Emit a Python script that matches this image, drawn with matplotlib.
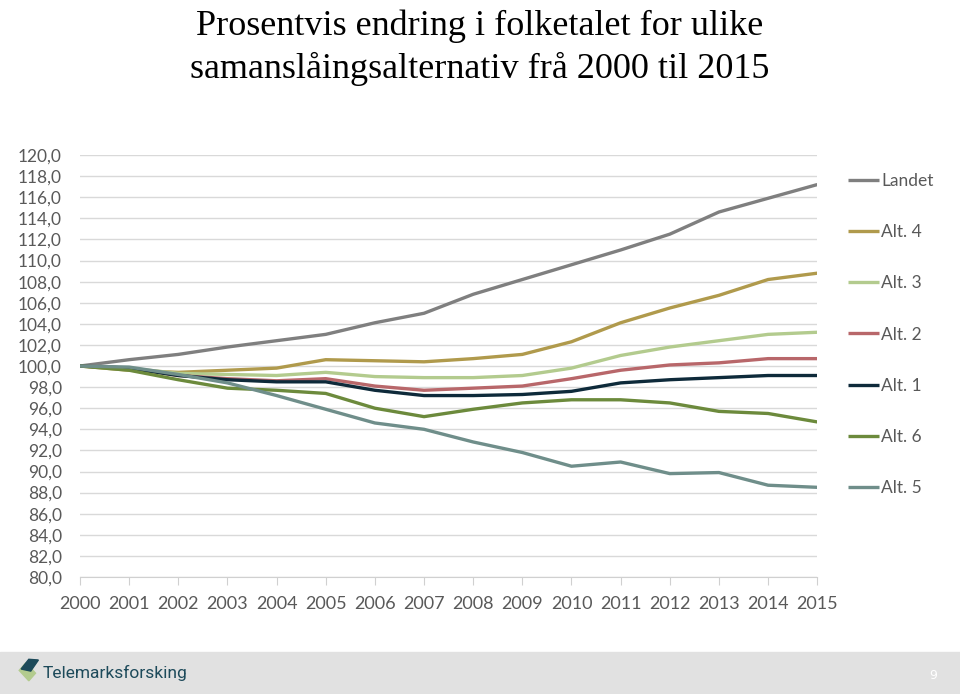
import matplotlib.pyplot as plt
from matplotlib.patches import Polygon, Rectangle

years = list(range(2000, 2016))
labels = ["Landet", "Alt. 4", "Alt. 3", "Alt. 2", "Alt. 1", "Alt. 6", "Alt. 5"]

landet = [100.0, 100.6, 101.1, 101.8, 102.4, 103.0, 104.1, 105.0, 106.8, 108.2, 109.6, 111.0, 112.5, 114.6, 115.9, 117.2]
alt4 = [100.0, 99.6, 99.4, 99.6, 99.8, 100.6, 100.5, 100.4, 100.7, 101.1, 102.3, 104.1, 105.5, 106.7, 108.2, 108.8]
alt3 = [100.0, 99.8, 99.3, 99.2, 99.1, 99.4, 99.0, 98.9, 98.9, 99.1, 99.8, 101.0, 101.8, 102.4, 103.0, 103.2]
alt2 = [100.0, 99.8, 99.1, 98.8, 98.6, 98.8, 98.1, 97.7, 97.9, 98.1, 98.8, 99.6, 100.1, 100.3, 100.7, 100.7]
alt1 = [100.0, 99.8, 99.1, 98.7, 98.5, 98.5, 97.7, 97.2, 97.2, 97.3, 97.6, 98.4, 98.7, 98.9, 99.1, 99.1]
alt6 = [100.0, 99.6, 98.7, 97.9, 97.7, 97.4, 96.0, 95.2, 95.9, 96.5, 96.8, 96.8, 96.5, 95.7, 95.5, 94.7]
alt5 = [100.0, 99.9, 99.2, 98.4, 97.2, 95.9, 94.6, 94.0, 92.8, 91.8, 90.5, 90.9, 89.8, 89.9, 88.7, 88.5]

series = [landet, alt4, alt3, alt2, alt1, alt6, alt5]
colors = ["#7f7f7f", "#b09a4c", "#b3cb8e", "#b8676a", "#0e2a3a", "#6c8a3c", "#6f8e8a"]

fig = plt.figure(figsize=(9.6, 6.94), dpi=100)
ax = fig.add_axes([0.0833, 0.1686, 0.768, 0.608])

for vals, lab, col in zip(series, labels, colors):
    ax.plot(years, vals, color=col, lw=2.4, label=lab, solid_capstyle="butt")

ax.set_xlim(2000, 2015)
ax.set_ylim(80, 120)
ax.set_yticks(range(80, 121, 2))
ax.set_yticklabels([f"{v},0" for v in range(80, 121, 2)])
ax.set_xticks(years)
ax.grid(axis="y", color="#d9d9d9", lw=1)
ax.set_axisbelow(True)
for s in ["top", "right", "left"]:
    ax.spines[s].set_visible(False)
ax.spines["bottom"].set_color("#d0d0d0")
ax.tick_params(axis="y", length=0, pad=13, labelsize=12.5, labelcolor="#595959")
ax.tick_params(axis="x", length=6, color="#d0d0d0", pad=8, labelsize=13, labelcolor="#595959")
for t in ax.get_xticklabels() + ax.get_yticklabels():
    t.set_fontfamily("Lato")

leg = ax.legend(loc="upper left", bbox_to_anchor=(1.02, 0.995), frameon=False,
                handlelength=1.8, handletextpad=0.15, labelspacing=2.03,
                prop={"family": "Lato", "size": 12.5})
for t in leg.get_texts():
    t.set_color("#595959")

fig.text(0.5, 0.962, "Prosentvis endring i folketalet for ulike", ha="center", va="center",
         fontsize=26, family="Liberation Serif", color="#000000")
fig.text(0.5, 0.900, "samanslåingsalternativ frå 2000 til 2015", ha="center", va="center",
         fontsize=26, family="Liberation Serif", color="#000000")

# footer band with logo
fig.patches.append(Rectangle((0, 0), 1, 42 / 694, transform=fig.transFigure,
                             color="#e1e1e1", zorder=0))
fig.patches.append(Polygon([(0.027, 0.045), (0.037, 0.030), (0.030, 0.019), (0.020, 0.034)],
                           closed=True, transform=fig.transFigure, color="#b3cb8e"))
fig.patches.append(Polygon([(0.030, 0.050), (0.040, 0.049), (0.032, 0.033), (0.022, 0.036)],
                           closed=True, transform=fig.transFigure, color="#1d4a5a"))
fig.text(0.044, 0.030, "Telemarksforsking", ha="left", va="center", fontsize=12.5,
         family="Roboto", color="#1d4a5a")
fig.text(0.972, 0.026, "9", ha="center", va="center", fontsize=9, color="white")

fig.savefig("out.png", dpi=100)
